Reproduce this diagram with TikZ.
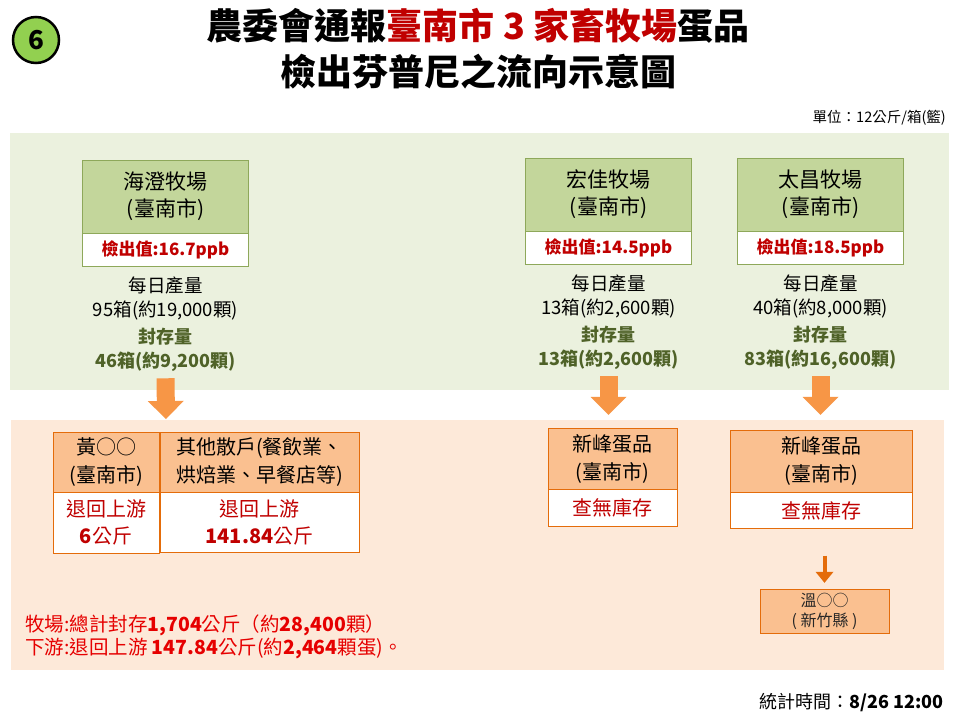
\documentclass[tikz,border=0pt]{standalone}
\usepackage{fontspec}
\setmainfont{Noto Sans CJK TC}
\usetikzlibrary{arrows.meta, positioning}
\usepackage{xcolor}

\definecolor{bandgreen}{HTML}{EBF1DE}
\definecolor{bandorange}{HTML}{FDE9D9}
\definecolor{farmfill}{HTML}{C3D69B}
\definecolor{farmline}{HTML}{8EA85A}
\definecolor{shopfill}{HTML}{FAC090}
\definecolor{shopline}{HTML}{E46C0A}
\definecolor{arroworange}{HTML}{F79646}
\definecolor{darkorange}{HTML}{E46C0A}
\definecolor{valred}{HTML}{C00000}
\definecolor{footred}{HTML}{E60000}
\definecolor{sealolive}{HTML}{4F6228}
\definecolor{badgegreen}{HTML}{92D050}

\begin{document}
\begin{tikzpicture}[x=1pt, y=-1pt,
		farmhead/.style={draw=farmline, fill=farmfill, minimum width=166pt, minimum height=73pt, inner sep=0pt, align=center, font=\fontsize{21}{27}\selectfont},
		farmval/.style={draw=farmline, fill=white, minimum width=166pt, minimum height=33pt, inner sep=0pt, text=valred, font=\bfseries\fontsize{17}{19}\selectfont},
		daily/.style={align=center, font=\fontsize{18.5}{24}\selectfont},
		sealed/.style={align=center, text=sealolive, font=\bfseries\fontsize{18}{24}\selectfont},
		shophead/.style={draw=shopline, fill=shopfill, inner sep=0pt, align=center, font=\fontsize{20}{28}\selectfont},
		shopval/.style={draw=shopline, fill=white, inner sep=0pt, align=center, text=valred, font=\fontsize{20}{27}\selectfont},
		bigarrow/.style={draw=arroworange, line width=18pt, -{Triangle[width=36pt, length=18pt, line width=0pt]}},
		smallarrow/.style={draw=darkorange, line width=4pt, -{Triangle[width=18pt, length=11pt, line width=0pt]}}]
		
		\useasboundingbox[fill=white] (0,0) rectangle (960,720);
		
		% Titre
		\node [circle, draw, line width=2.5pt, fill=badgegreen, minimum size=46pt, inner sep=0pt, font=\bfseries\fontsize{26}{26}\selectfont] (badge) at (36,40) {6};
		\node [align=center, font=\bfseries\fontsize{36}{46}\selectfont] (title) at (478,49) {農委會通報\textcolor{valred}{臺南市 3 家畜牧場}蛋品\\檢出芬普尼之流向示意圖};
		\node [anchor=east, inner sep=0pt, font=\fontsize{14.5}{14.5}\selectfont] (unit) at (946,118) {單位：12公斤/箱(籃)};
		
		% Bandes
		\fill [bandgreen] (10,133) rectangle (949,390);
		\fill [bandorange] (11,420) rectangle (944,670);
		
		% Fermes
		\node [farmhead] (haicheng) at (165.5,196.5) {海澄牧場\\(臺南市)};
		\node [farmval, below=0pt of haicheng] (haichengval) {檢出值:16.7ppb};
		\node [daily] (haichengdaily) at (165.5,298) {每日產量\\95箱(約19,000顆)};
		\node [sealed] (haichengsealed) at (165.5,350) {封存量\\46箱(約9,200顆)};
		
		\node [farmhead] (hongjia) at (608.5,194.5) {宏佳牧場\\(臺南市)};
		\node [farmval, below=0pt of hongjia] (hongjiaval) {檢出值:14.5ppb};
		\node [daily] (hongjiadaily) at (608.5,296.5) {每日產量\\13箱(約2,600顆)};
		\node [sealed] (hongjiasealed) at (608.5,348) {封存量\\13箱(約2,600顆)};
		
		\node [farmhead] (taichang) at (820.5,194.5) {太昌牧場\\(臺南市)};
		\node [farmval, below=0pt of taichang] (taichangval) {檢出值:18.5ppb};
		\node [daily] (taichangdaily) at (820.5,296.5) {每日產量\\40箱(約8,000顆)};
		\node [sealed] (taichangsealed) at (820.5,348) {封存量\\83箱(約16,600顆)};
		
		% Aval
		\node [shophead, minimum width=106pt, minimum height=60pt] (huang) at (106,462) {黃○○\\(臺南市)};
		\node [shopval, minimum width=106pt, minimum height=61pt, below=0pt of huang] (huangval) {退回上游\\{\bfseries 6}公斤};
		\node [shophead, minimum width=199pt, minimum height=60pt] (others) at (259.5,462) {其他散戶(餐飲業、\\烘焙業、早餐店等)};
		\node [shopval, minimum width=199pt, minimum height=60pt, below=0pt of others] (othersval) {退回上游\\{\bfseries 141.84}公斤};
		
		\node [shophead, minimum width=129pt, minimum height=61pt] (xinfengA) at (612.5,458.5) {新峰蛋品\\(臺南市)};
		\node [shopval, minimum width=129pt, minimum height=37pt, below=0pt of xinfengA] (xinfengAval) {查無庫存};
		
		\node [shophead, minimum width=182pt, minimum height=62pt] (xinfengB) at (821,461) {新峰蛋品\\(臺南市)};
		\node [shopval, minimum width=182pt, minimum height=36pt, below=0pt of xinfengB] (xinfengBval) {查無庫存};
		
		\node [shophead, minimum width=129pt, minimum height=44pt, text=black!85, font=\fontsize{16}{20}\selectfont] (wen) at (824.5,611) {溫○○\\( 新竹縣 )};
		
		% Liens
		\coordinate (haichengend) at (166,419);
		\draw [bigarrow, shorten <=3pt] (haichengsealed.south) -- (haichengend);
		\draw [bigarrow, shorten <=3pt, shorten >=13pt] (hongjiasealed.south) -- (hongjiasealed.south |- xinfengA.north);
		\draw [bigarrow, shorten <=3pt, shorten >=15pt] (taichangsealed.south) -- (taichangsealed.south |- xinfengB.north);
		\draw [smallarrow, shorten <=27pt, shorten >=6pt] (wen.north |- xinfengBval.south) -- (wen.north);
		
		% Notes
		\node [anchor=west, align=left, inner sep=0pt, text=footred, font=\fontsize{19.5}{23}\selectfont] (summary) at (25,637) {牧場:總計封存{\bfseries 1,704}公斤（約{\bfseries 28,400}顆）\\下游:退回上游 {\bfseries 147.84}公斤({約}{\bfseries 2,464}顆蛋)。};
		\node [anchor=east, inner sep=0pt, font=\fontsize{18}{18}\selectfont] (stamp) at (944,703) {統計時間：{\bfseries 8/26 12:00}};
		
	\end{tikzpicture}
\end{document}
